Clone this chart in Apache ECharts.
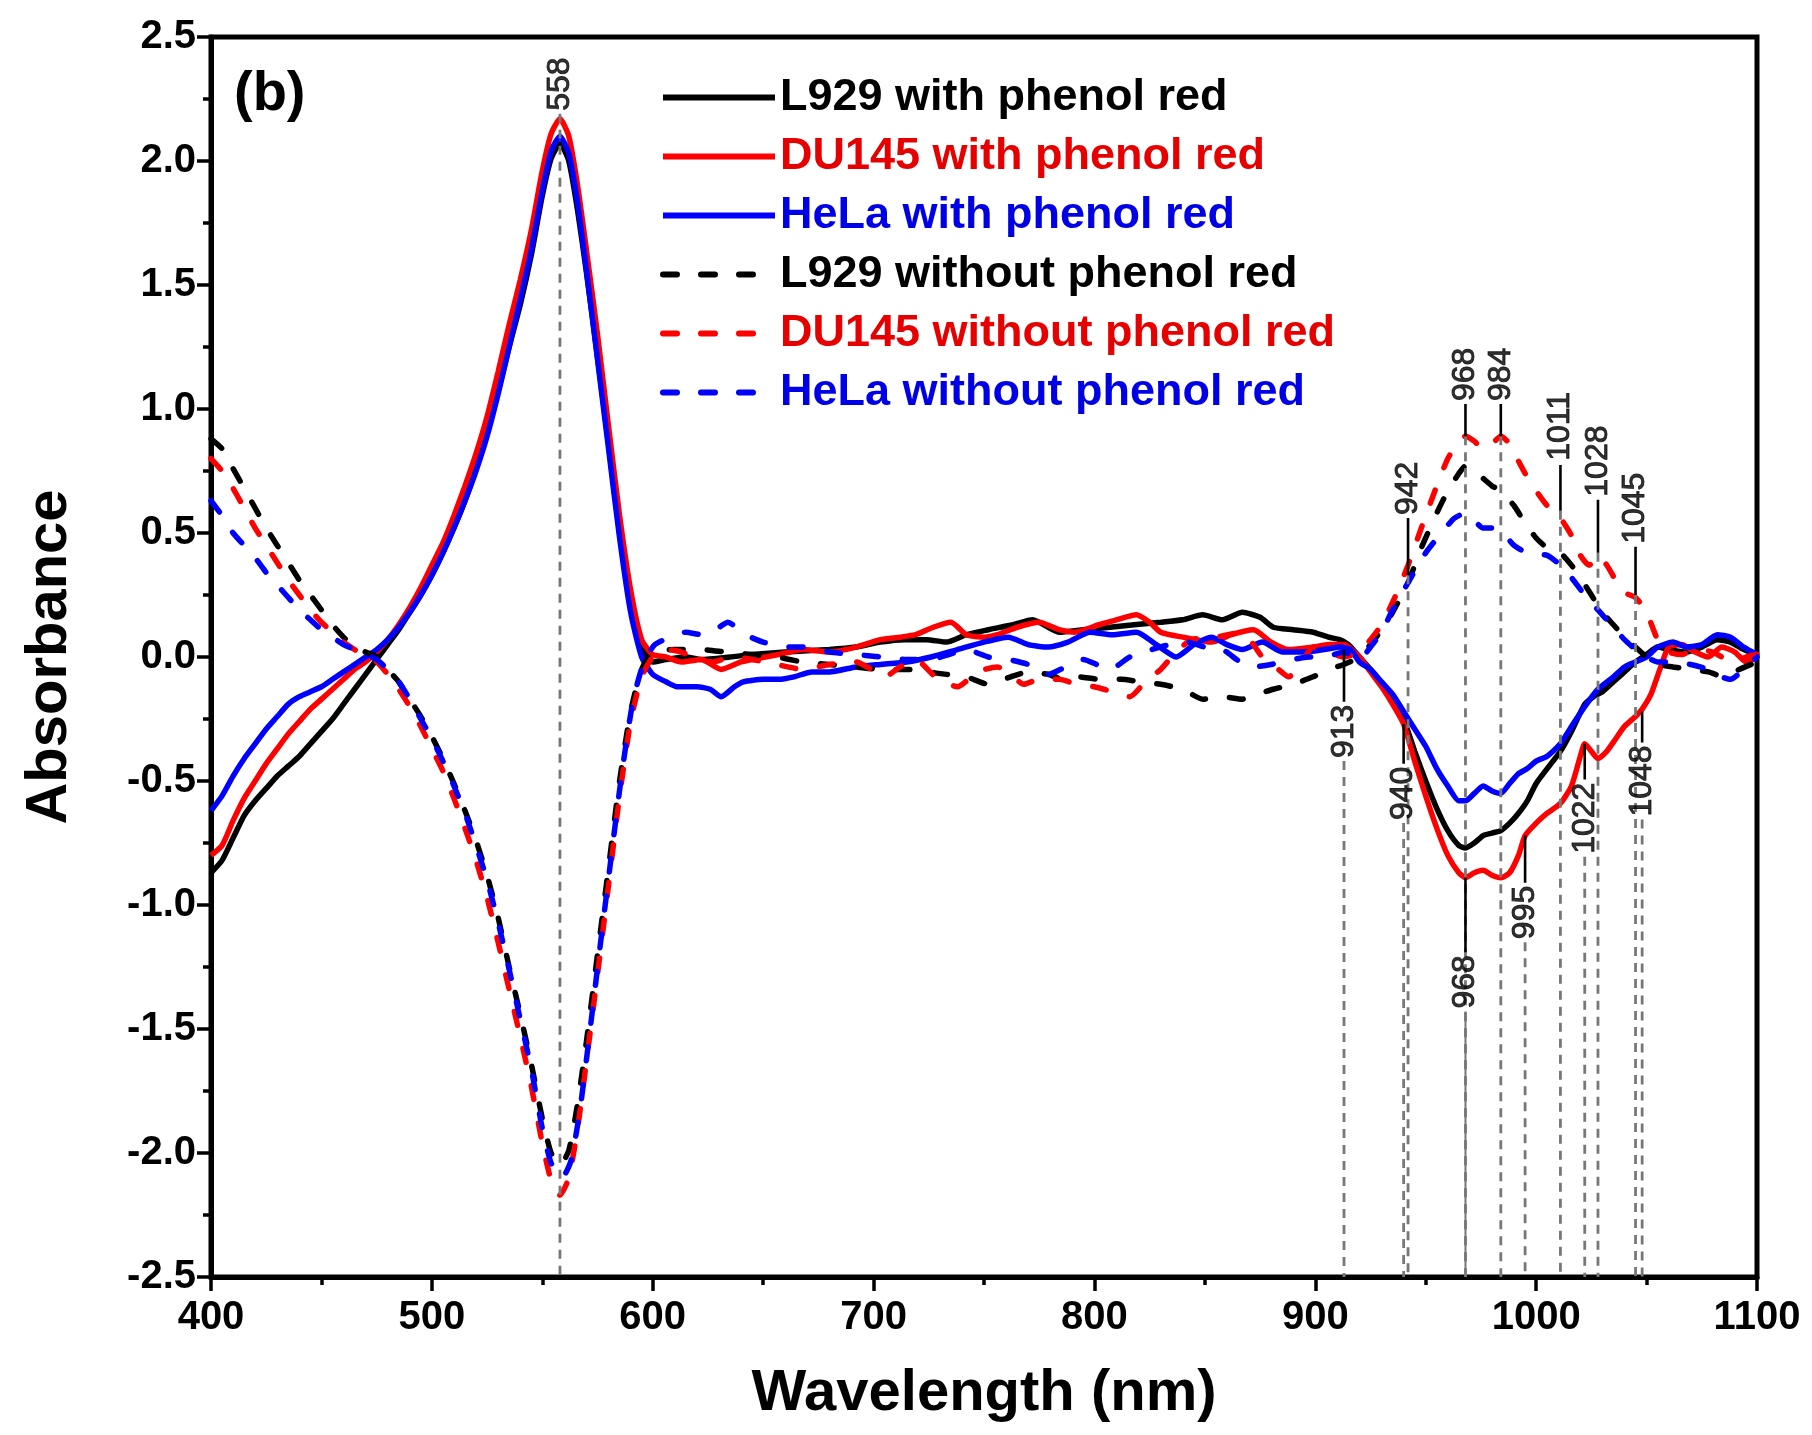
<!DOCTYPE html>
<html>
<head>
<meta charset="utf-8">
<script src="https://cdn.jsdelivr.net/npm/echarts@6/dist/echarts.min.js"></script>
<style>
html,body{margin:0;padding:0;background:#fff;}
#chart{width:1812px;height:1435px;}
</style>
</head>
<body>
<div id="chart"></div>
<script>
// ---------- DATA ----------
const seriesNames = ['L929 with phenol red','DU145 with phenol red','HeLa with phenol red',
  'L929 without phenol red','DU145 without phenol red','HeLa without phenol red'];

const l929With = [[400,-0.87],[405,-0.82],[410,-0.73],[415,-0.64],[420,-0.58],[425,-0.53],[430,-0.48],[435,-0.44],[440,-0.40],[445,-0.35],[450,-0.30],[455,-0.25],[460,-0.19],[465,-0.13],[470,-0.07],[475,-0.01],[480,0.05],[485,0.11],[490,0.18],[495,0.25],[500,0.33],[505,0.42],[510,0.52],[515,0.63],[520,0.76],[525,0.90],[530,1.07],[535,1.25],[540,1.42],[545,1.62],[550,1.86],[554,2.01],[558,2.07],[562,2.00],[566,1.80],[570,1.55],[575,1.21],[580,0.86],[585,0.50],[590,0.22],[595,0.04],[600,-0.02],
[606,-0.01],[615,0.0],[622,-0.01],[635,0.0],[645,0.01],[660,0.02],[680,0.03],[692,0.04],[703,0.06],[714,0.07],[724,0.07],[733,0.06],[742,0.09],[752,0.11],[763,0.13],[772,0.15],[784,0.10],[795,0.11],[807,0.12],[818,0.13],[830,0.14],[840,0.15],[849,0.17],[858,0.15],[867,0.18],[875,0.16],[881,0.12],[890,0.11],[899,0.10],[906,0.08],[911,0.07],[915,0.05],
[920,0.0],[925,-0.05],[930,-0.11],[935,-0.17],[940,-0.25],[945,-0.38],[950,-0.50],[955,-0.61],[960,-0.70],[965,-0.76],[968,-0.77],[972,-0.75],[976,-0.72],[980,-0.71],[984,-0.70],[988,-0.67],[992,-0.63],[996,-0.58],[1000,-0.51],[1005,-0.45],[1011,-0.38],[1016,-0.30],[1022,-0.19],[1026,-0.16],[1030,-0.14],[1035,-0.10],[1040,-0.06],[1045,-0.02],[1050,0.01],[1055,0.04],[1060,0.03],[1068,0.02],[1075,0.04],[1082,0.07],[1088,0.06],[1094,0.03],[1100,0.01]];

const du145With = [[400,-0.80],[405,-0.76],[410,-0.66],[415,-0.57],[420,-0.50],[425,-0.43],[430,-0.37],[435,-0.31],[440,-0.26],[445,-0.21],[450,-0.17],[455,-0.13],[460,-0.09],[465,-0.05],[470,-0.02],[475,0.02],[480,0.07],[485,0.13],[490,0.20],[495,0.28],[500,0.37],[505,0.46],[510,0.57],[515,0.69],[520,0.82],[525,0.97],[530,1.15],[535,1.34],[540,1.52],[545,1.72],[550,1.96],[554,2.11],[558,2.17],[562,2.10],[566,1.90],[570,1.64],[575,1.30],[580,0.93],[585,0.57],[590,0.27],[595,0.07],[600,0.01],
[606,0.0],[613,-0.02],[622,-0.01],[631,-0.05],[640,-0.02],[645,-0.01],[657,0.01],[668,0.03],[680,0.02],[692,0.04],[703,0.07],[712,0.08],[719,0.09],[727,0.12],[735,0.14],[742,0.09],[750,0.08],[756,0.09],[765,0.12],[775,0.14],[784,0.11],[791,0.10],[802,0.13],[810,0.15],[819,0.17],[825,0.14],[830,0.10],[840,0.08],[853,0.06],[862,0.09],[872,0.11],[880,0.06],[888,0.03],[899,0.04],[906,0.05],[913,0.05],
[920,0.0],[925,-0.06],[930,-0.12],[935,-0.19],[940,-0.27],[945,-0.42],[950,-0.56],[955,-0.69],[960,-0.80],[965,-0.87],[968,-0.89],[972,-0.87],[976,-0.86],[980,-0.88],[984,-0.89],[988,-0.87],[992,-0.80],[995,-0.72],[1000,-0.67],[1005,-0.63],[1011,-0.59],[1016,-0.52],[1020,-0.40],[1022,-0.35],[1025,-0.38],[1028,-0.41],[1032,-0.38],[1036,-0.33],[1040,-0.28],[1045,-0.24],[1048,-0.21],[1052,-0.15],[1056,-0.05],[1060,0.04],[1066,0.05],[1072,0.02],[1078,0.0],[1084,0.04],[1090,0.02],[1095,-0.02],[1100,0.0]];

const helaWith = [[400,-0.62],[405,-0.56],[410,-0.48],[415,-0.41],[420,-0.35],[425,-0.29],[430,-0.24],[435,-0.19],[440,-0.16],[445,-0.14],[450,-0.12],[455,-0.09],[460,-0.06],[465,-0.03],[470,0.0],[475,0.03],[480,0.07],[485,0.12],[490,0.18],[495,0.25],[500,0.33],[505,0.42],[510,0.52],[515,0.63],[520,0.75],[525,0.89],[530,1.06],[535,1.25],[540,1.44],[545,1.64],[550,1.88],[554,2.04],[558,2.10],[562,2.03],[566,1.83],[570,1.56],[575,1.20],[580,0.84],[585,0.48],[590,0.18],[595,0.0],[600,-0.07],
[606,-0.10],[611,-0.12],[620,-0.12],[626,-0.13],[631,-0.16],[637,-0.12],[641,-0.10],[650,-0.09],[657,-0.09],[664,-0.08],[672,-0.06],[680,-0.06],[692,-0.04],[703,-0.03],[715,-0.02],[726,0.0],[738,0.03],[750,0.06],[761,0.08],[770,0.05],[779,0.04],[788,0.06],[798,0.10],[808,0.09],[819,0.10],[828,0.05],[837,0.0],[845,0.05],[853,0.08],[860,0.05],[867,0.03],[876,0.06],[885,0.02],[895,0.02],[904,0.03],[911,0.04],[916,0.03],
[920,-0.02],[925,-0.05],[930,-0.10],[935,-0.15],[940,-0.22],[945,-0.29],[950,-0.36],[955,-0.45],[960,-0.52],[965,-0.58],[968,-0.58],[972,-0.55],[976,-0.52],[980,-0.54],[984,-0.55],[988,-0.51],[992,-0.47],[996,-0.45],[1000,-0.42],[1005,-0.40],[1011,-0.35],[1016,-0.28],[1022,-0.20],[1028,-0.13],[1035,-0.08],[1040,-0.04],[1045,-0.02],[1050,0.0],[1055,0.04],[1062,0.06],[1068,0.04],[1075,0.05],[1082,0.09],[1088,0.08],[1094,0.04],[1100,0.01]];

const l929Without = [[400,0.88],[405,0.84],[410,0.76],[415,0.68],[420,0.60],[425,0.52],[430,0.45],[435,0.38],[440,0.31],[445,0.25],[450,0.19],[455,0.13],[460,0.08],[465,0.04],[470,0.02],[475,0.0],[480,-0.05],[485,-0.10],[490,-0.17],[495,-0.24],[500,-0.32],[505,-0.41],[510,-0.51],[515,-0.62],[520,-0.74],[525,-0.88],[530,-1.05],[535,-1.25],[540,-1.44],[545,-1.64],[550,-1.86],[554,-2.00],[558,-2.05],[562,-1.99],[566,-1.80],[570,-1.55],[575,-1.20],[580,-0.85],[585,-0.50],[590,-0.22],[595,-0.05],[600,0.02],
[610,0.03],[622,0.03],[633,0.02],[645,0.01],[656,0.0],[668,-0.02],[680,-0.03],[692,-0.04],[703,-0.05],[715,-0.05],[724,-0.06],[733,-0.07],[742,-0.08],[752,-0.11],[762,-0.08],[770,-0.06],[779,-0.07],[786,-0.09],[793,-0.08],[802,-0.09],[812,-0.09],[821,-0.10],[830,-0.11],[840,-0.13],[849,-0.17],[858,-0.16],[867,-0.17],[874,-0.15],[881,-0.13],[890,-0.11],[899,-0.08],[906,-0.05],[913,-0.03],
[920,0.0],[925,0.05],[930,0.11],[935,0.18],[942,0.30],[948,0.44],[955,0.58],[960,0.67],[965,0.74],[968,0.77],[972,0.75],[976,0.72],[980,0.69],[984,0.67],[990,0.61],[995,0.54],[1000,0.48],[1005,0.44],[1011,0.42],[1016,0.37],[1020,0.32],[1025,0.25],[1030,0.18],[1035,0.13],[1040,0.08],[1045,0.04],[1050,0.0],[1055,-0.03],[1062,-0.04],[1070,-0.05],[1078,-0.06],[1085,-0.08],[1092,-0.05],[1100,-0.02]];

const du145Without = [[400,0.80],[405,0.75],[410,0.68],[415,0.60],[420,0.52],[425,0.45],[430,0.38],[435,0.31],[440,0.25],[445,0.19],[450,0.14],[455,0.10],[460,0.06],[465,0.03],[470,0.0],[475,-0.02],[480,-0.07],[485,-0.13],[490,-0.20],[495,-0.28],[500,-0.37],[505,-0.46],[510,-0.57],[515,-0.69],[520,-0.82],[525,-0.97],[530,-1.15],[535,-1.34],[540,-1.53],[545,-1.73],[550,-1.96],[554,-2.11],[558,-2.17],[562,-2.10],[566,-1.90],[570,-1.63],[575,-1.28],[580,-0.92],[585,-0.56],[590,-0.26],[595,-0.08],[600,0.0],
[606,0.03],[613,0.02],[620,-0.01],[627,-0.02],[636,0.0],[645,-0.01],[656,-0.03],[668,-0.05],[680,-0.03],[692,-0.02],[699,-0.05],[705,-0.08],[712,-0.04],[719,-0.01],[728,-0.08],[738,-0.12],[747,-0.06],[756,-0.04],[762,-0.07],[768,-0.11],[775,-0.09],[784,-0.09],[792,-0.11],[800,-0.12],[808,-0.14],[816,-0.16],[823,-0.10],[830,-0.05],[837,0.02],[844,0.07],[855,0.08],[867,0.10],[872,0.05],[876,0.0],[882,-0.04],[888,-0.08],[894,-0.02],[899,0.04],[906,0.02],[913,0.0],
[920,0.02],[925,0.07],[930,0.13],[936,0.24],[942,0.37],[948,0.52],[955,0.69],[960,0.80],[965,0.87],[968,0.89],[972,0.87],[976,0.84],[980,0.86],[984,0.89],[988,0.86],[992,0.79],[995,0.74],[1000,0.67],[1005,0.61],[1011,0.56],[1016,0.49],[1020,0.41],[1024,0.37],[1028,0.41],[1032,0.37],[1036,0.31],[1040,0.26],[1045,0.24],[1050,0.18],[1055,0.07],[1060,0.02],[1066,0.01],[1072,0.03],[1080,0.02],[1086,-0.01],[1090,-0.02],[1095,0.0],[1100,0.01]];

const helaWithout = [[400,0.63],[405,0.57],[410,0.50],[415,0.45],[420,0.40],[425,0.34],[430,0.29],[435,0.24],[440,0.19],[445,0.15],[450,0.11],[455,0.08],[460,0.05],[465,0.03],[470,0.01],[475,-0.01],[480,-0.05],[485,-0.10],[490,-0.17],[495,-0.25],[500,-0.33],[505,-0.42],[510,-0.52],[515,-0.63],[520,-0.76],[525,-0.90],[530,-1.07],[535,-1.26],[540,-1.46],[545,-1.66],[550,-1.90],[554,-2.04],[559,-2.10],[563,-2.03],[567,-1.83],[571,-1.55],[576,-1.18],[581,-0.82],[586,-0.47],[591,-0.18],[596,-0.02],[601,0.05],
[608,0.08],[615,0.10],[622,0.09],[630,0.12],[634,0.14],[642,0.09],[650,0.06],[660,0.04],[668,0.04],[680,0.02],[692,0.01],[703,0.0],[715,-0.01],[726,-0.01],[734,0.01],[742,0.03],[752,0.0],[761,-0.01],[770,-0.03],[779,-0.07],[787,-0.04],[795,-0.01],[801,-0.03],[807,-0.05],[816,0.0],[826,0.03],[834,0.05],[842,0.06],[850,0.04],[858,0.03],[866,-0.02],[872,-0.04],[880,-0.03],[890,-0.01],[897,0.0],[904,0.0],[913,0.02],
[920,-0.01],[925,0.04],[930,0.10],[935,0.19],[942,0.30],[950,0.42],[958,0.51],[963,0.56],[968,0.58],[972,0.55],[976,0.52],[980,0.52],[984,0.51],[990,0.45],[996,0.42],[1005,0.41],[1011,0.37],[1016,0.32],[1022,0.25],[1028,0.19],[1035,0.12],[1040,0.07],[1045,0.03],[1050,0.0],[1055,-0.02],[1062,-0.02],[1070,-0.03],[1078,-0.05],[1084,-0.08],[1088,-0.09],[1094,-0.05],[1100,0.0]];

// peak annotations: wavelength, label text, absorbance at the marked curve, label centre absorbance
const peakNm     = [558, 913, 940, 942, 968, 968, 984, 995, 1011, 1022, 1028, 1045, 1048];
const peakText   = ['558','913','940','942','968','968','984','995','1011','1022','1028','1045','1048'];
const peakAt     = [2.17, 0.03, -0.27, 0.33, 0.89, -0.89, 0.89, -0.72, 0.59, -0.35, 0.42, 0.25, -0.22];
const peakLabelY = [2.31, -0.30, -0.55, 0.68, 1.14, -1.31, 1.14, -1.03, 0.93, -0.65, 0.79, 0.60, -0.50];
const peakDropSolid = [false,false,false,false,false,true,false,false,false,false,false,false,false];

const xTicks = {min:400, max:1100, interval:100};
const yTicks = {min:-2.5, max:2.5, interval:0.5};

// ---------- CHART ----------
const seriesData = [l929With, du145With, helaWith, l929Without, du145Without, helaWithout];
const colors = ['#000000','#ff0000','#0000ff','#000000','#ff0000','#0000ff'];
const textColors = ['#000000','#e60000','#0000e6','#000000','#e60000','#0000e6'];
const FONT = "'Liberation Sans', Arial, sans-serif";
const LINE_W = 5.5;
const DASH = [14, 24];

const series = seriesData.map((d, i) => ({
  name: seriesNames[i],
  type: 'line',
  data: d,
  symbol: 'none',
  smooth: 0.2,
  z: 3,
  lineStyle: {color: colors[i], width: LINE_W, type: i < 3 ? 'solid' : DASH, cap: i < 3 ? 'butt' : 'round'},
  itemStyle: {color: colors[i]}
}));

const LABEL_FS = 32;
const pxPerUnit = (1277 - 37) / (yTicks.max - yTicks.min);
peakNm.forEach((x, i) => {
  const half = (peakText[i].length * 0.556 * LABEL_FS / 2 + 3) / pxPerUnit;
  const above = peakLabelY[i] > peakAt[i];
  const labelLow = peakLabelY[i] - half;
  const labelHigh = peakLabelY[i] + half;
  if (i !== 0) {
    series.push({
      type: 'line', silent: true, symbol: 'none', z: 5,
      data: above ? [[x, peakAt[i]], [x, labelLow]] : [[x, peakAt[i]], [x, labelHigh]],
      lineStyle: {color: '#000', width: 2.6, type: 'solid'}
    });
  }
  const dropTop = above ? (i === 0 ? labelLow : peakAt[i]) : labelLow;
  series.push({
    type: 'line', silent: true, symbol: 'none', z: 4,
    data: [[x, dropTop], [x, yTicks.min]],
    lineStyle: {color: '#777777', width: peakDropSolid[i] ? 2 : 2.8, type: peakDropSolid[i] ? 'solid' : [9, 7]}
  });
});
series.push({
  type: 'scatter', silent: true, z: 6,
  data: peakNm.map((x, i) => [x, peakLabelY[i], peakText[i]]),
  symbolSize: 2,
  itemStyle: {color: 'rgba(255,255,255,0)'},
  labelLayout: {hideOverlap: false},
  label: {
    show: true, position: 'inside', rotate: 90,
    formatter: p => p.value[2],
    fontSize: LABEL_FS, fontFamily: FONT, color: '#000',
    textBorderColor: '#000', textBorderWidth: 0.9,
    align: 'center', verticalAlign: 'middle'
  }
});

const chart = echarts.init(document.getElementById('chart'), null, {renderer: 'canvas'});
chart.setOption({
  animation: false,
  backgroundColor: '#ffffff',
  title: {
    text: '(b)', left: 229, top: 62,
    textStyle: {fontSize: 56, fontWeight: 'bold', fontFamily: FONT, color: '#000'}
  },
  legend: {
    orient: 'vertical', left: 655, top: 70, itemGap: 14,
    itemWidth: 112, itemHeight: 14,
    itemStyle: {color: 'rgba(0,0,0,0)', borderWidth: 0, opacity: 0},
    lineStyle: {width: 6},
    data: seriesNames.map((n, i) => ({name: n, textStyle: {color: textColors[i]}})),
    textStyle: {fontSize: 45, fontWeight: 'bold', fontFamily: FONT}
  },
  grid: {left: 211, right: 55, top: 37, bottom: 158, show: true, borderColor: '#000', borderWidth: 5, backgroundColor: 'transparent'},
  xAxis: {
    type: 'value', min: xTicks.min, max: xTicks.max, interval: xTicks.interval,
    name: 'Wavelength (nm)', nameLocation: 'middle', nameGap: 88,
    nameTextStyle: {fontSize: 58, fontWeight: 'bold', fontFamily: FONT, color: '#000'},
    axisLine: {show: true, onZero: false, lineStyle: {color: '#000', width: 5}},
    axisTick: {show: true, inside: false, length: 14, lineStyle: {color: '#000', width: 3.5}},
    minorTick: {show: true, splitNumber: 2, length: 8, lineStyle: {color: '#000', width: 3.5}},
    splitLine: {show: false},
    axisLabel: {fontSize: 40, fontWeight: 'bold', fontFamily: FONT, color: '#000', margin: 21,
      formatter: v => String(v)}
  },
  yAxis: {
    type: 'value', min: yTicks.min, max: yTicks.max, interval: yTicks.interval,
    name: 'Absorbance', nameLocation: 'middle', nameGap: 132, nameRotate: 90,
    nameTextStyle: {fontSize: 58, fontWeight: 'bold', fontFamily: FONT, color: '#000'},
    axisLine: {show: true, onZero: false, lineStyle: {color: '#000', width: 5}},
    axisTick: {show: true, inside: false, length: 14, lineStyle: {color: '#000', width: 3.5}},
    minorTick: {show: true, splitNumber: 2, length: 8, lineStyle: {color: '#000', width: 3.5}},
    splitLine: {show: false},
    axisLabel: {fontSize: 40, fontWeight: 'bold', fontFamily: FONT, color: '#000', margin: 15,
      formatter: v => v.toFixed(1)}
  },
  series: series
});
</script>
</body>
</html>
